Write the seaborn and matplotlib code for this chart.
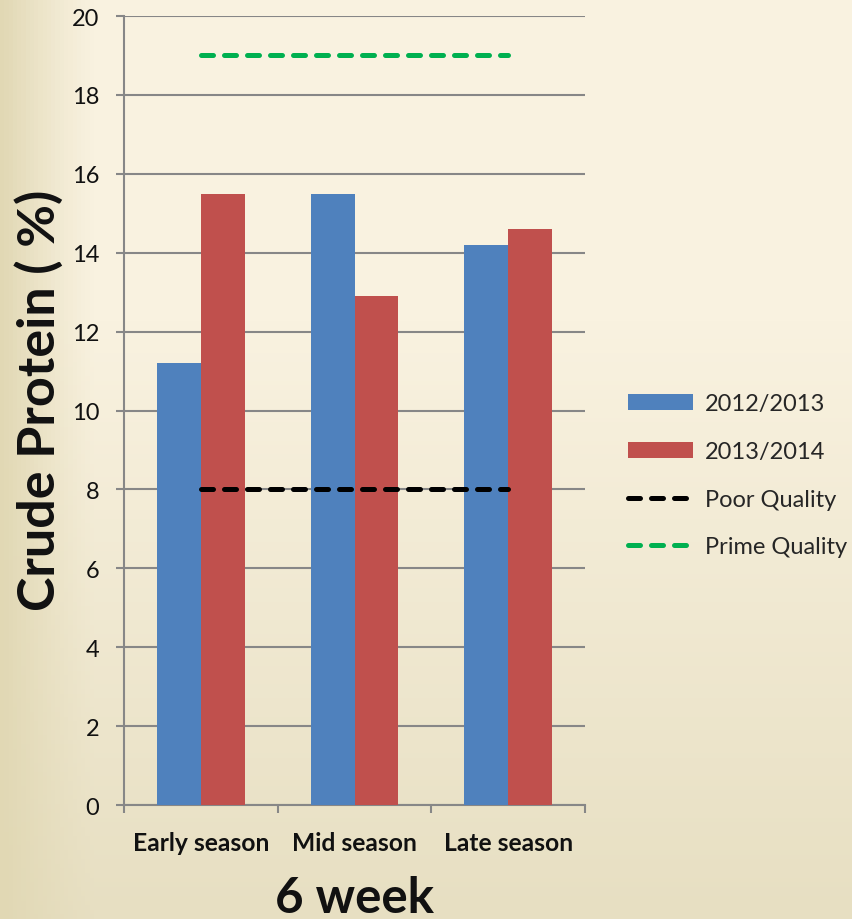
import numpy as np
import pandas as pd
import matplotlib
matplotlib.use("Agg")
import matplotlib.pyplot as plt
import seaborn as sns
from matplotlib.lines import Line2D
from matplotlib.patches import Patch

# Crude protein at 6 weeks, by season and year
seasons = ["Early season", "Mid season", "Late season"]
years = ["2012/2013", "2013/2014"]
cp_2012_2013 = [11.2, 15.5, 14.2]
cp_2013_2014 = [15.5, 12.9, 14.6]
poor_quality = 8
prime_quality = 19
y_ticks = [0, 2, 4, 6, 8, 10, 12, 14, 16, 18, 20]

bar_colors = ["#4F81BD", "#C0504D"]
poor_color = "#000000"
prime_color = "#00B050"
grid_color = "#878787"
text_color = "#111111"
dash_style = (0, (2.4, 2.2))

df = pd.DataFrame({
    "season": seasons * 2,
    "year": [years[0]] * len(seasons) + [years[1]] * len(seasons),
    "cp": cp_2012_2013 + cp_2013_2014,
})

sns.set_theme(style="white")
plt.rcParams["font.family"] = ["Lato", "DejaVu Sans"]

fig = plt.figure(figsize=(8.53, 9.2), dpi=100)

# Parchment-style background: light cream, darker toward the bottom and left edge
bg = fig.add_axes([0, 0, 1, 1], zorder=-10)
h, w = 200, 200
yy = np.linspace(0, 1, h)[:, None]
xx = np.linspace(0, 1, w)[None, :]
top = np.array([249, 242, 224]) / 255
bottom = np.array([231, 223, 194]) / 255
tv = np.clip((yy - 0.35) / 0.65, 0, 1)[..., None]
img = top * (1 - tv) + bottom * tv
left_dark = np.array([225, 216, 180]) / 255
lv = np.clip(1 - xx / 0.11, 0, 1)[..., None] ** 1.2
img = img * (1 - lv) + left_dark * lv
img = img * np.ones((h, w, 1))
bg.imshow(img, aspect="auto", extent=[0, 1, 1, 0])
bg.set_axis_off()

ax = fig.add_axes([0.1454, 0.1239, 0.5404, 0.8576])
ax.patch.set_alpha(0)

sns.barplot(data=df, x="season", y="cp", hue="year", hue_order=years,
            order=seasons, palette=bar_colors, width=0.57, saturation=1,
            errorbar=None, ax=ax, legend=False, zorder=3, linewidth=0,
            edgecolor="none")

x_idx = np.arange(len(seasons))
ax.plot([x_idx[0], x_idx[-1]], [poor_quality] * 2, color=poor_color, lw=3.6,
        ls=dash_style, dash_capstyle="round", zorder=4)
ax.plot([x_idx[0], x_idx[-1]], [prime_quality] * 2, color=prime_color, lw=3.6,
        ls=dash_style, dash_capstyle="round", zorder=4)

ax.set_xlim(-0.5, len(seasons) - 0.5)
ax.set_ylim(0, 20)
ax.set_yticks(y_ticks)
ax.set_yticklabels([str(t) for t in y_ticks], fontsize=17, color=text_color)
ax.yaxis.grid(True, color=grid_color, lw=1.5, zorder=0)
ax.set_axisbelow(True)

for side in ["top", "right"]:
    ax.spines[side].set_visible(False)
for side in ["left", "bottom"]:
    ax.spines[side].set_color(grid_color)
    ax.spines[side].set_linewidth(1.5)

ax.tick_params(axis="y", which="major", direction="out", length=6,
               width=1.5, color=grid_color, pad=12, left=True)
ax.set_xticks(x_idx)
ax.set_xticklabels(seasons, fontsize=17.7, fontweight="bold", color=text_color)
ax.set_xticks(np.arange(-0.5, len(seasons)), minor=True)
ax.tick_params(axis="x", which="major", length=0, pad=19)
ax.tick_params(axis="x", which="minor", direction="out", length=6,
               width=1.5, color=grid_color, bottom=True)

ax.set_xlabel("6 week", fontsize=35.5, fontweight="bold", color=text_color,
              labelpad=14.5)
ax.set_ylabel("Crude Protein ( %)", fontsize=37.5, fontweight="bold",
              color=text_color)
ax.yaxis.set_label_coords(-0.130, 0.514)

handles = [
    Patch(facecolor=bar_colors[0], edgecolor="none"),
    Patch(facecolor=bar_colors[1], edgecolor="none"),
    Line2D([], [], color=poor_color, lw=3.6, ls=dash_style,
           dash_capstyle="round"),
    Line2D([], [], color=prime_color, lw=3.6, ls=dash_style,
           dash_capstyle="round"),
]
labels = years + ["Poor Quality", "Prime Quality"]
fig.legend(handles, labels, loc="center left", bbox_to_anchor=(0.736, 0.4822),
           frameon=False, fontsize=17, handlelength=2.75, handleheight=0.68,
           labelspacing=1.13, handletextpad=0.5, borderpad=0,
           borderaxespad=0)

fig.savefig("out.png", dpi=100)
